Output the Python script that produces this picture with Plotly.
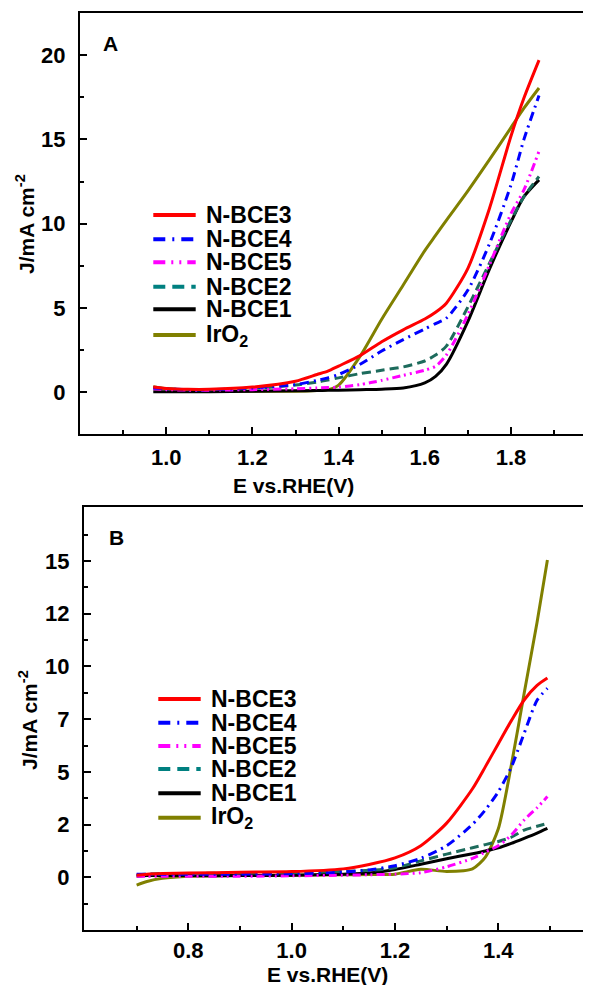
import plotly.graph_objects as go

# ---------------- data ----------------
E_A = [0.97, 1.0, 1.05, 1.1, 1.2, 1.3, 1.35, 1.375, 1.4, 1.45, 1.5, 1.55, 1.6, 1.625, 1.65, 1.7, 1.75, 1.8, 1.83, 1.865]
J_A_BCE3 = [0.30, 0.22, 0.17, 0.17, 0.30, 0.65, 1.05, 1.25, 1.55, 2.17, 2.99, 3.70, 4.34, 4.74, 5.28, 7.35, 10.9, 15.2, 17.45, 19.7]
J_A_BCE4 = [0.25, 0.20, 0.15, 0.15, 0.25, 0.45, 0.70, 0.85, 1.05, 1.66, 2.44, 3.12, 3.75, 4.07, 4.39, 6.06, 8.80, 12.3, 15.0, 17.6]
J_A_BCE5 = [0.20, 0.15, 0.12, 0.12, 0.15, 0.20, 0.25, 0.27, 0.30, 0.45, 0.70, 1.00, 1.30, 1.54, 2.20, 4.60, 7.55, 10.6, 12.0, 14.3]
J_A_BCE2 = [0.25, 0.20, 0.15, 0.15, 0.22, 0.42, 0.60, 0.72, 0.85, 1.10, 1.30, 1.50, 1.85, 2.20, 2.73, 5.06, 7.65, 10.2, 11.6, 12.8]
J_A_BCE1 = [0.02, 0.02, 0.02, 0.03, 0.05, 0.08, 0.10, 0.11, 0.12, 0.15, 0.18, 0.25, 0.55, 0.94, 1.65, 4.20, 7.30, 10.1, 11.6, 12.6]
J_A_IRO2 = [0.32, 0.20, 0.12, 0.08, 0.06, 0.06, 0.10, 0.15, 0.42, 2.14, 4.33, 6.36, 8.40, 9.30, 10.2, 11.95, 13.8, 15.7, 16.85, 18.05]

E_B = [0.70, 0.72, 0.75, 0.80, 0.90, 1.00, 1.10, 1.15, 1.20, 1.25, 1.30, 1.35, 1.375, 1.40, 1.425, 1.45, 1.475, 1.495]
J_B_BCE3 = [0.10, 0.15, 0.18, 0.20, 0.24, 0.27, 0.40, 0.61, 0.92, 1.50, 2.57, 4.20, 5.25, 6.34, 7.42, 8.41, 9.10, 9.45]
J_B_BCE4 = [0.15, 0.15, 0.15, 0.15, 0.15, 0.17, 0.25, 0.35, 0.55, 0.90, 1.50, 2.51, 3.20, 4.06, 5.22, 6.83, 8.40, 8.97]
J_B_BCE5 = [0.05, 0.05, 0.05, 0.05, 0.05, 0.07, 0.10, 0.12, 0.15, 0.22, 0.50, 0.90, 1.20, 1.50, 2.00, 2.72, 3.30, 3.83]
J_B_BCE2 = [0.10, 0.15, 0.18, 0.18, 0.20, 0.22, 0.28, 0.33, 0.45, 0.78, 1.10, 1.40, 1.55, 1.70, 1.90, 2.24, 2.42, 2.56]
J_B_BCE1 = [0.05, 0.08, 0.08, 0.08, 0.08, 0.10, 0.15, 0.20, 0.37, 0.62, 0.88, 1.12, 1.25, 1.40, 1.61, 1.85, 2.10, 2.32]
J_B_IRO2 = [-0.37, -0.20, -0.05, 0.05, 0.08, 0.10, 0.12, 0.13, 0.15, 0.38, 0.28, 0.40, 0.96, 2.30, 5.30, 8.73, 12.1, 15.05]

SERIES_NAMES = ["N-BCE3", "N-BCE4", "N-BCE5", "N-BCE2", "N-BCE1", "IrO<sub>2</sub>"]

A_XTICKS = [1.0, 1.2, 1.4, 1.6, 1.8]
A_XMINOR = [0.9, 1.1, 1.3, 1.5, 1.7, 1.9]
A_YTICKS = [0, 5, 10, 15, 20]
A_YMINOR = [2.5, 7.5, 12.5, 17.5]
B_XTICKS = [0.8, 1.0, 1.2, 1.4]
B_XMINOR = [0.7, 0.9, 1.1, 1.3, 1.5]
B_YTICKS = [0, 2.5, 5, 7.5, 10, 12.5, 15]
B_YTICKTEXT = ["0", "2", "5", "7", "10", "12", "15"]
B_YMINOR = [-1.25, 1.25, 3.75, 6.25, 8.75, 11.25, 13.75, 16.25]

# ---------------- styles ----------------
COLORS = ["#ff0000", "#0000ff", "#ff00ff", "#1d6b5c", "#000000", "#808000"]
LEG_COLORS = ["#ff0000", "#0000ff", "#ff00ff", "#008080", "#000000", "#808000"]
DASHES = ["solid", "9px,5px,2px,5px", "8px,4px,2px,4px,2px,4px", "9px,5px", "solid", "solid"]
LEG_DASHES = ["solid", "12px,7px,2px,7px", "12px,6px,2px,6px,2px,6px", "12px,7px", "solid", "solid"]
FONT = "Liberation Sans, Arial, sans-serif"

# The page body has an 8px default margin, so the figure is sized to fit the window.
OFF = 8
FW, FH = 591 - 2 * OFF, 993 - 2 * OFF
PLOT_L, PLOT_R, PLOT_T, PLOT_B = 80, 591 - OFF, 13, 930   # window pixels
ML = PLOT_L - OFF
MR = 0
MT = PLOT_T - OFF
MB = FH - (PLOT_B - OFF)
PW = PLOT_R - PLOT_L
PH = PLOT_B - PLOT_T


def px(x):
    return (x - PLOT_L) / PW


def py(y):
    return (PLOT_B - y) / PH


fig = go.Figure()

a_sets = [J_A_BCE3, J_A_BCE4, J_A_BCE5, J_A_BCE2, J_A_BCE1, J_A_IRO2]
b_sets = [J_B_BCE3, J_B_BCE4, J_B_BCE5, J_B_BCE2, J_B_BCE1, J_B_IRO2]
order = [5, 4, 3, 2, 1, 0]
for i in order:
    fig.add_trace(go.Scatter(x=E_A, y=a_sets[i], mode="lines", name=SERIES_NAMES[i],
                             line=dict(color=COLORS[i], width=3, dash=DASHES[i], shape="spline", smoothing=0.7),
                             xaxis="x", yaxis="y", showlegend=False))
for i in order:
    fig.add_trace(go.Scatter(x=E_B, y=b_sets[i], mode="lines", name=SERIES_NAMES[i],
                             line=dict(color=COLORS[i], width=3, dash=DASHES[i], shape="spline", smoothing=0.7),
                             xaxis="x2", yaxis="y2", showlegend=False))

tickfont = dict(family=FONT, size=22, color="black", weight="bold")


def xax(rng, domain, anchor, tv, minor, standoff):
    return dict(range=rng, domain=domain, anchor=anchor, showline=True, linecolor="black", linewidth=2,
                mirror=True, ticks="inside", ticklen=7, tickwidth=2, tickcolor="black",
                tickmode="array", tickvals=tv, ticktext=[f"{v:.1f}" for v in tv],
                minor=dict(ticks="inside", ticklen=4, tickwidth=2, tickcolor="black",
                           tickmode="array", tickvals=minor),
                showgrid=False, zeroline=False, tickfont=tickfont, ticklabelstandoff=standoff,
                automargin=False)


def yax(rng, domain, anchor, tv, tt, minor):
    return dict(range=rng, domain=domain, anchor=anchor, showline=True, linecolor="black", linewidth=2,
                mirror=False, ticks="inside", ticklen=7, tickwidth=2, tickcolor="black",
                tickmode="array", tickvals=tv, ticktext=tt,
                minor=dict(ticks="inside", ticklen=4, tickwidth=2, tickcolor="black",
                           tickmode="array", tickvals=minor),
                showgrid=False, zeroline=False, tickfont=tickfont, ticklabelstandoff=8,
                automargin=False)


dom_a = [py(434.3), 1.0]
dom_b = [0.0, py(506.7)]
# x ranges follow the reference scale (431 px per V in A, 516.7 px per V in B)
range_a = [0.8, 0.8 + PW / 431.0]
range_b = [0.8 - (188.3 - 84) / 516.7, 0.8 + (PLOT_R - 188.3) / 516.7]

shapes = []
annotations = []

legend_rows_a = [215, 239.3, 262.3, 286.7, 309.3, 335]
legend_rows_b = [699, 722.7, 746, 769, 793.3, 817.7]
leg_font = dict(family=FONT, size=23, color="black", weight="bold")
for rows, x0, x1, xt in [(legend_rows_a, 153.3, 195.7, 204), (legend_rows_b, 158.3, 200.7, 209)]:
    for i, yy in enumerate(rows):
        shapes.append(dict(type="line", xref="paper", yref="paper", x0=px(x0), x1=px(x1), y0=py(yy), y1=py(yy),
                           line=dict(color=LEG_COLORS[i], width=4, dash=LEG_DASHES[i])))
        annotations.append(dict(xref="paper", yref="paper", x=px(xt), y=py(yy), xanchor="left", yanchor="middle",
                                text=SERIES_NAMES[i], showarrow=False, font=leg_font))

lab_font = dict(family=FONT, size=21, color="black", weight="bold")


def lab(x, y, text, angle=0):
    return dict(xref="paper", yref="paper", x=px(x), y=py(y), text=text, showarrow=False, font=lab_font,
                xanchor="center", yanchor="middle", textangle=angle)


annotations += [
    lab(110, 43, "A"),
    lab(116, 537, "B"),
    lab(293, 485, "E vs.RHE(V)"),
    lab(327, 974, "E vs.RHE(V)"),
    lab(25, 224, "J/mA cm<sup>-2</sup>", -90),
    lab(28, 720, "J/mA cm<sup>-2</sup>", -90),
]

fig.update_layout(
    template="none",
    width=FW, height=FH, autosize=False,
    margin=dict(l=ML, r=MR, t=MT, b=MB, pad=0),
    paper_bgcolor="white", plot_bgcolor="white",
    xaxis=xax(range_a, [0, 1], "y", A_XTICKS, A_XMINOR, 2),
    yaxis=yax([-2.5, 22.5], dom_a, "x", A_YTICKS, [str(v) for v in A_YTICKS], A_YMINOR),
    xaxis2=xax(range_b, [px(84), 1], "y2", B_XTICKS, B_XMINOR, 0),
    yaxis2=yax([-2.5, 17.58], dom_b, "x2", B_YTICKS, B_YTICKTEXT, B_YMINOR),
    shapes=shapes, annotations=annotations, showlegend=False,
)

fig.write_html("out.html")
